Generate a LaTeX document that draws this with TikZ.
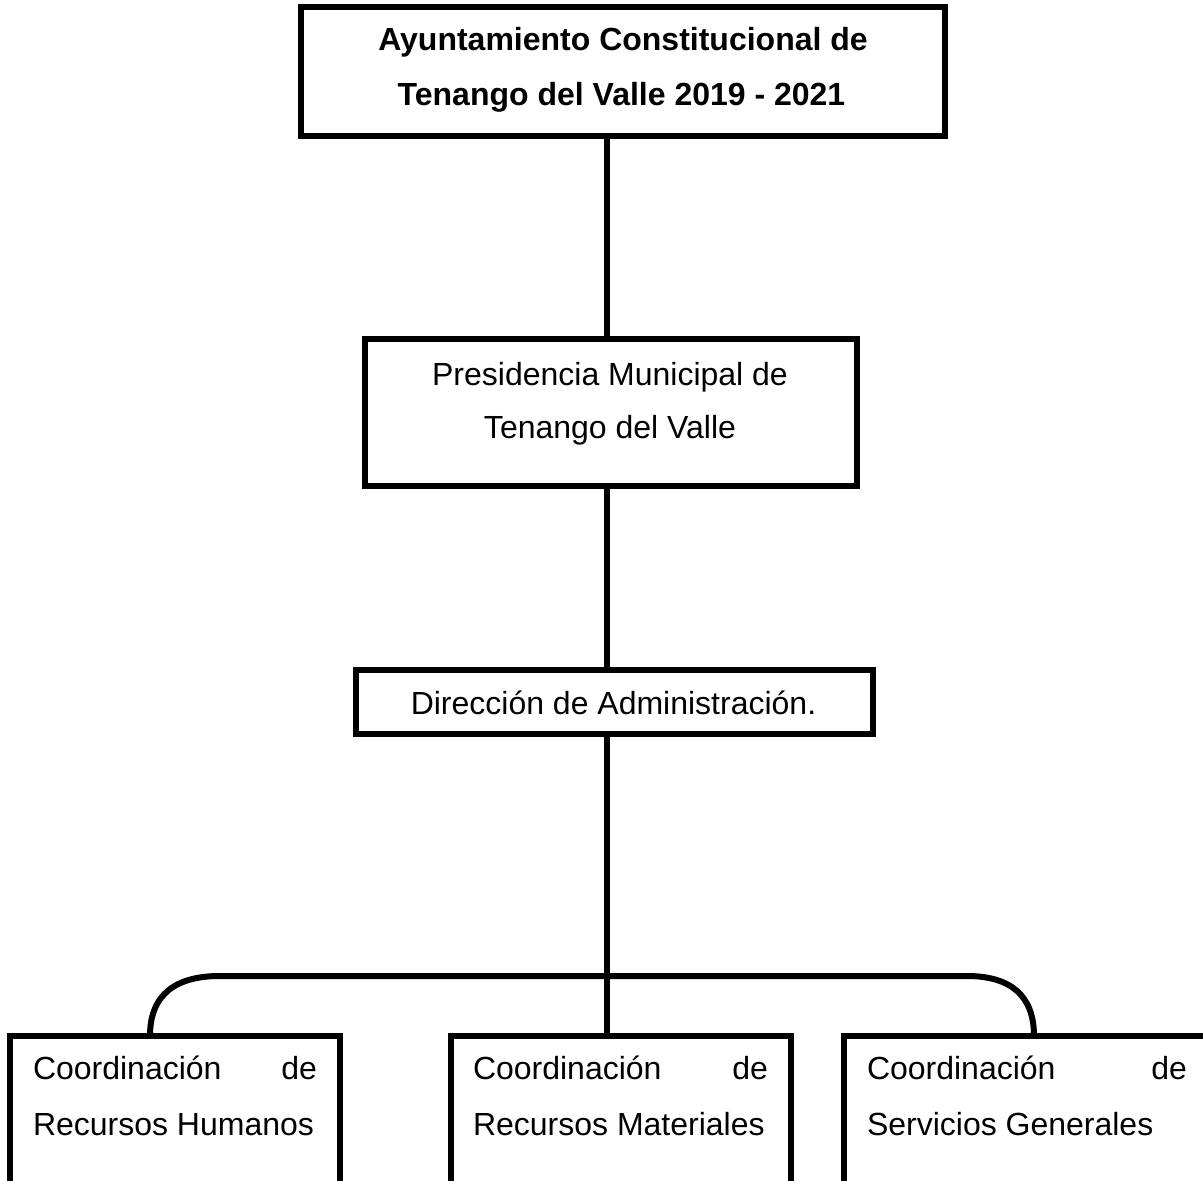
\documentclass[tikz,border=0pt]{standalone}
\usepackage{fontspec}
\setmainfont{Liberation Sans}
\begin{document}
\begin{tikzpicture}[x=1pt,y=-1pt,
  box/.style={draw=black, line width=6pt, inner sep=0pt, outer sep=0pt, rectangle},
  txt/.style={inner sep=0pt, outer sep=0pt, font=\fontsize{32}{38}\selectfont},
  btxt/.style={inner sep=0pt, outer sep=0pt, font=\fontsize{32}{38}\selectfont\bfseries},
  conn/.style={draw=black, line width=6pt}]
\useasboundingbox (0,0) rectangle (1203,1181);
\clip (0,0) rectangle (1203,1181);
\fill[white] (0,0) rectangle (1203,1181);

% boxes
\node[box, minimum width=644pt, minimum height=129pt] (ayto) at (623,71.5) {};
\node[box, minimum width=492pt, minimum height=147pt] (pres) at (611,412.5) {};
\node[box, minimum width=517pt, minimum height=64pt] (dir) at (614.5,702) {};
\node[box, minimum width=330pt, minimum height=264pt] (rh) at (175,1168) {};
\node[box, minimum width=340pt, minimum height=264pt] (rm) at (621,1168) {};
\node[box, minimum width=370pt, minimum height=264pt] (sg) at (1028.5,1168) {};

% texts
\node[btxt, anchor=base] (t1a) at (623,50) {Ayuntamiento Constitucional de};
\node[btxt, anchor=base] (t1b) at (621.5,105) {Tenango del Valle 2019 - 2021};
\node[txt, anchor=base] (t2a) at (610,385) {Presidencia Municipal de};
\node[txt, anchor=base] (t2b) at (610,438.5) {Tenango del Valle};
\node[txt, anchor=base] (t3) at (613.5,714.5) {Dirección de Administración.};
\node[txt, anchor=base west] (t4a) at (33,1079.5) {\hbox to 284pt{Coordinación\hfill de}};
\node[txt, anchor=base west] (t4b) at (33,1135) {Recursos Humanos};
\node[txt, anchor=base west] (t5a) at (473,1079.5) {\hbox to 295pt{Coordinación\hfill de}};
\node[txt, anchor=base west] (t5b) at (473,1135) {Recursos Materiales};
\node[txt, anchor=base west] (t6a) at (867,1079.5) {\hbox to 320pt{Coordinación\hfill de}};
\node[txt, anchor=base west] (t6b) at (867,1135) {Servicios Generales};

% connectors
\coordinate (trunk) at (607,0);
\coordinate (legL) at (150,0);
\coordinate (legR) at (1034,0);
\coordinate (barL) at (220,976);
\coordinate (barR) at (967,976);
\draw[conn] (ayto.south -| trunk) -- (pres.north -| trunk);
\draw[conn] (pres.south -| trunk) -- (dir.north -| trunk);
\draw[conn] (dir.south -| trunk) -- (rm.north -| trunk);
\draw[conn] (rh.north -| legL) .. controls (150,994) and (176,976) .. (barL)
  -- (barR) .. controls (1010,976) and (1034,995) .. (sg.north -| legR);
\end{tikzpicture}
\end{document}
